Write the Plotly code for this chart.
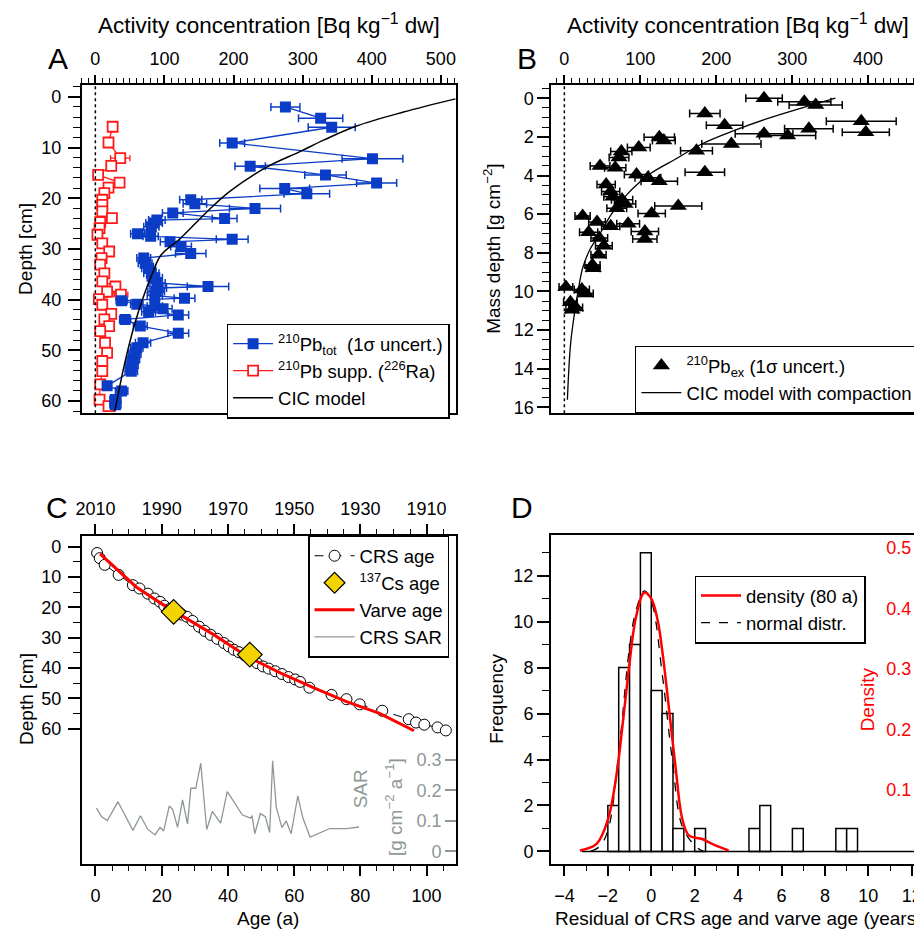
import plotly.graph_objects as go

# The page body has an 8px margin, so the figure is 8px smaller and all
# reference pixel positions are shifted by 8px.
OFF = 8
W, H = 922 - OFF, 936 - OFF
FONT = "Arial, 'Liberation Sans', Helvetica, sans-serif"
BLUE = "#0b3cc6"
RED = "#ff1a1a"
GRAY = "#8e9797"
YELLOW = "#f3d400"

# ---------------- Panel A data ----------------
pb_tot_depth = [2.0, 4.2, 6.0, 9.1, 12.2, 13.7, 15.4, 17.0, 18.1, 19.1, 20.3, 21.1, 22.0, 22.9,
                24.0, 24.3, 24.9, 25.6, 27.0, 27.5, 28.1, 28.6, 29.5, 30.9, 31.8, 32.8, 33.8,
                34.8, 35.7, 36.7, 37.4, 37.7, 38.4, 39.2, 39.7, 40.2, 40.9, 41.3, 41.8, 42.4,
                43.0, 43.9, 45.2, 46.6, 48.5, 49.5, 50.7, 51.8, 52.9, 54.1, 57.0, 58.0, 59.7, 60.7]
pb_tot_val = [275, 326, 342, 198, 401, 224, 333, 407, 274, 306, 138, 144, 231, 112,
              187, 89, 85, 81, 61, 80, 198, 108, 124, 138, 70, 72, 77,
              81, 86, 89, 163, 91, 88, 86, 129, 38, 60, 86, 98, 77,
              120, 43, 65, 120, 69, 60, 57, 55, 53, 52, 17, 38, 29, 29]
pb_tot_err = [21, 32, 34, 18, 44, 22, 30, 29, 36, 33, 16, 17, 37, 15,
              18, 12, 12, 11, 10, 11, 23, 14, 15, 22, 10, 10, 10,
              11, 11, 12, 30, 12, 12, 11, 15, 8, 9, 11, 13, 10,
              15, 8, 10, 15, 11, 9, 9, 9, 9, 9, 6, 9, 8, 8]

pb_supp_depth = [5.9, 9.0, 12.1, 13.6, 15.4, 16.9, 17.9, 19.0, 20.3, 21.3, 22.6, 23.9, 24.7,
                 25.9, 27.2, 28.9, 30.5, 31.8, 33.1, 34.8, 36.4, 37.4, 38.4, 39.0, 39.9, 41.0,
                 42.8, 43.9, 45.2, 46.2, 48.5, 50.5, 52.1, 54.1, 56.7, 59.7, 61.0]
pb_supp_val = [25, 19, 36, 23, 4, 35, 19, 13, 10, 10, 10, 24, 7,
               6, 3, 10, 20, 9, 7, 13, 10, 29, 17, 37, 5, 10,
               23, 13, 20, 7, 14, 17, 10, 10, 7, 6, 19]
pb_supp_err = [4, 4, 14, 5, 3, 6, 4, 4, 3, 3, 3, 5, 3,
               3, 3, 3, 5, 3, 3, 4, 3, 6, 4, 10, 3, 3,
               5, 4, 5, 3, 4, 4, 3, 3, 3, 3, 4]

cic_depth = [0.4, 3.0, 5.8, 8.5, 10.8, 14.0, 18.6, 22.6, 27.8, 31.2, 35.0, 40.0, 45.0, 52.8, 62.1]
cic_val = [521, 446, 377, 331, 296, 246, 195, 162, 124, 95, 82, 68, 56.5, 42, 28]

# ---------------- Panel B data ----------------
pbex_md = [0.0, 0.18, 0.35, 0.79, 1.19, 1.4, 1.58, 1.76, 1.84, 1.93, 2.02, 2.19, 2.37, 2.55,
           2.72, 2.76, 3.07, 3.51, 3.6, 3.83, 3.95, 4.12, 4.3, 4.47, 4.83, 5.1, 5.26, 5.47,
           5.58, 5.7, 5.97, 6.1, 6.4, 6.5, 6.63, 6.9, 6.93, 7.23, 7.28, 7.63, 8.1, 8.63,
           8.8, 9.77, 9.9, 10.1, 10.56, 10.83, 10.94]
pbex_val = [263, 316, 331, 185, 391, 211, 322, 397, 263, 294, 125, 131, 220, 98,
            174, 75, 72, 47, 67, 185, 95, 110, 125, 55, 61, 64, 76, 80,
            150, 69, 115, 24, 43, 84, 61, 106, 32, 46, 106, 52, 45, 37,
            38, 2, 23, 28, 8, 15, 10]
pbex_err = [24, 35, 35, 20, 46, 24, 32, 31, 38, 37, 20, 15, 39, 15,
            21, 14, 13, 13, 14, 26, 16, 17, 24, 12, 12, 12, 14, 14,
            31, 13, 18, 10, 11, 15, 12, 18, 12, 11, 16, 11, 10, 10,
            9, 9, 10, 10, 9, 9, 8]

cicc_md = [0.0, 0.53, 1.05, 1.67, 2.37, 3.16, 3.86, 4.39, 5.0, 6.0, 7.0, 7.8, 8.8, 10.0, 10.7, 12.67, 15.6]
cicc_val = [357, 311, 268, 224, 181, 146, 115, 98, 82, 62, 47, 34, 24, 18, 15, 8.3, 4]

# ---------------- Panel C data ----------------
crs_age = [0.5, 1.3, 2.8, 7.0, 11.3, 13.3, 15.8, 17.8, 19.5, 20.8, 22.3, 24.5, 26.0, 27.6,
           29.3, 31.3, 33.0, 34.8, 36.8, 38.8, 40.3, 41.8, 43.3, 45.0, 46.8, 48.8, 50.6,
           52.3, 54.3, 56.3, 58.3, 60.3, 61.8, 64.6, 71.3, 75.8, 79.8, 86.6, 94.6, 96.8,
           99.3, 103.3, 105.8]
crs_depth = [2.1, 3.8, 6.0, 9.3, 12.7, 13.8, 15.5, 17.1, 18.2, 19.5, 20.6, 21.6, 22.4, 23.1,
             24.5, 26.4, 27.8, 29.1, 30.4, 31.8, 32.9, 34.0, 34.8, 35.8, 37.0, 38.4, 39.5,
             40.2, 41.1, 42.0, 43.0, 43.8, 44.6, 46.5, 48.9, 50.3, 52.0, 54.1, 56.9, 58.0,
             58.7, 59.6, 60.6]
cs_age = [23.6, 46.6]
cs_depth = [21.5, 35.6]
varve_age = [1.4, 7.8, 12.3, 19.8, 25.8, 35.8, 45.8, 55.8, 65.8, 75.8, 85.8, 94.8, 96.2]
varve_depth = [2.4, 9.0, 13.3, 18.7, 22.6, 29.1, 36.2, 41.6, 46.5, 51.1, 55.0, 60.0, 60.7]
sar_age = [0.3, 1.8, 3.6, 6.8, 11.3, 13.6, 15.8, 18.0, 19.5, 20.6, 22.3, 23.3, 24.8, 26.3,
           27.8, 28.8, 30.3, 31.8, 33.6, 35.3, 37.8, 39.8, 41.8, 44.3, 46.8, 47.3, 48.1,
           49.8, 51.3, 52.6, 53.5, 54.6, 56.3, 57.6, 59.1, 61.1, 62.6, 64.8, 70.8, 75.8, 79.6]
sar_val = [0.142, 0.114, 0.101, 0.163, 0.069, 0.117, 0.072, 0.054, 0.079, 0.067, 0.149, 0.138,
           0.079, 0.169, 0.090, 0.207, 0.207, 0.289, 0.072, 0.131, 0.093, 0.196, 0.163, 0.120,
           0.109, 0.117, 0.058, 0.124, 0.114, 0.062, 0.297, 0.145, 0.078, 0.100, 0.058, 0.182,
           0.111, 0.047, 0.075, 0.075, 0.080]
year_ticks = [2010, 1990, 1970, 1950, 1930, 1910]

# ---------------- Panel D data ----------------
bin_left = [-2.0, -1.5, -1.0, -0.5, 0.0, 0.5, 1.0, 2.0, 4.5, 5.0, 6.5, 8.5, 9.0]
bin_count = [2, 8, 9, 13, 7, 6, 1, 1, 1, 2, 1, 1, 1]
bin_width = 0.5
hist_span = [-3.2, 12.1]
dens_x = [-3.29, -2.52, -1.99, -1.61, -1.31, -1.0, -0.7, -0.32, 0.0, 0.29, 0.52, 0.82,
          1.13, 1.43, 1.73, 2.34, 2.8, 3.56]
dens_y = [0.0, 0.011, 0.052, 0.123, 0.211, 0.31, 0.386, 0.426, 0.416, 0.381, 0.326, 0.233,
          0.134, 0.052, 0.025, 0.019, 0.011, 0.0]
norm_x = [-2.8, -2.37, -1.99, -1.5, -1.0, -0.7, -0.32, 0.0, 0.52, 0.97, 1.43, 2.04, 2.4]
norm_y = [0.0, 0.22, 0.94, 4.26, 8.9, 10.5, 11.34, 10.9, 7.6, 3.97, 1.08, 0.22, 0.0]


def px(x):
    return (x - OFF) / W


def py(y):
    return 1 - (y - OFF) / H


fig = go.Figure()

# ---- Panel A traces
fig.add_trace(go.Scatter(
    x=pb_supp_val, y=pb_supp_depth, mode="lines+markers", xaxis="x", yaxis="y",
    name="<sup>210</sup>Pb supp. (<sup>226</sup>Ra)", legend="legend", legendrank=2,
    line=dict(color=RED, width=1.3),
    marker=dict(symbol="square", size=10, color="white", line=dict(color=RED, width=1.8)),
    error_x=dict(type="data", array=pb_supp_err, color=RED, thickness=1.3, width=3)))
fig.add_trace(go.Scatter(
    x=pb_tot_val, y=pb_tot_depth, mode="lines+markers", xaxis="x", yaxis="y",
    name="<sup>210</sup>Pb<sub>tot</sub>  (1σ uncert.)", legend="legend", legendrank=1,
    line=dict(color=BLUE, width=1.3),
    marker=dict(symbol="square", size=11, color=BLUE),
    error_x=dict(type="data", array=pb_tot_err, color=BLUE, thickness=1.5, width=4)))
fig.add_trace(go.Scatter(
    x=cic_val, y=cic_depth, mode="lines", xaxis="x", yaxis="y", name="CIC model",
    legend="legend", legendrank=3, line=dict(color="black", width=1.5, shape="spline")))

# ---- Panel B traces
fig.add_trace(go.Scatter(
    x=pbex_val, y=pbex_md, mode="markers", xaxis="x2", yaxis="y2",
    name="<sup>210</sup>Pb<sub>ex</sub> (1σ uncert.)", legend="legend2",
    marker=dict(symbol="triangle-up", size=15, color="black"),
    error_x=dict(type="data", array=pbex_err, color="black", thickness=1.5, width=4)))
fig.add_trace(go.Scatter(
    x=cicc_val, y=cicc_md, mode="lines", xaxis="x2", yaxis="y2",
    name="CIC model with compaction", legend="legend2",
    line=dict(color="black", width=1.3, shape="spline")))

# ---- Panel C traces
fig.add_trace(go.Scatter(
    x=sar_age, y=sar_val, mode="lines", xaxis="x3", yaxis="y4", name="CRS SAR",
    legend="legend3", legendrank=4, line=dict(color=GRAY, width=1.3)))
fig.add_trace(go.Scatter(
    x=crs_age, y=crs_depth, mode="lines+markers", xaxis="x3", yaxis="y3", name="CRS age",
    legend="legend3", legendrank=1, line=dict(color="black", width=1, dash="dash"),
    marker=dict(symbol="circle", size=11, color="white", line=dict(color="black", width=1))))
fig.add_trace(go.Scatter(
    x=varve_age, y=varve_depth, mode="lines", xaxis="x3", yaxis="y3", name="Varve age",
    legend="legend3", legendrank=3, line=dict(color="#ff0000", width=3)))
fig.add_trace(go.Scatter(
    x=cs_age, y=cs_depth, mode="markers", xaxis="x3", yaxis="y3",
    name="<sup>137</sup>Cs age", legend="legend3", legendrank=2,
    marker=dict(symbol="diamond", size=19, color=YELLOW, line=dict(color="black", width=1.2))))
fig.add_trace(go.Scatter(x=[], y=[], xaxis="x4", yaxis="y3", showlegend=False, hoverinfo="skip"))

# ---- Panel D traces
fig.add_trace(go.Bar(
    x=[b + bin_width / 2 for b in bin_left], y=bin_count, width=bin_width,
    xaxis="x5", yaxis="y5", showlegend=False,
    marker=dict(color="white", line=dict(color="black", width=1.5))))
fig.add_trace(go.Scatter(
    x=dens_x, y=dens_y, mode="lines", xaxis="x5", yaxis="y6", name="density (80 a)",
    legend="legend4", legendrank=1, line=dict(color="#ff0000", width=2.5, shape="spline")))
fig.add_trace(go.Scatter(
    x=hist_span, y=[0, 0], mode="lines", xaxis="x5", yaxis="y5", showlegend=False,
    line=dict(color="black", width=1.5)))
fig.add_trace(go.Scatter(
    x=norm_x, y=norm_y, mode="lines", xaxis="x5", yaxis="y5", name="normal distr.",
    legend="legend4", legendrank=2, line=dict(color="black", width=1.3, dash="dash", shape="spline")))

# ---- zero reference lines (dotted)
for xr, yr in (("x", "y"), ("x2", "y2")):
    fig.add_shape(type="line", xref=xr, x0=0, x1=0, yref=yr + " domain", y0=0, y1=1,
                  line=dict(color="black", width=1.5, dash="dot"))

tickfont = dict(size=18, color="black", family=FONT)


def ax(**kw):
    d = dict(showline=True, linecolor="black", linewidth=1.5, ticks="outside",
             tickcolor="black", tickwidth=1.5, showgrid=False, zeroline=False,
             tickfont=tickfont, autorange=False, fixedrange=True)
    d.update(kw)
    return d


minor_k = dict(ticks="outside", tickcolor="black", tickwidth=1.2, showgrid=False)

dom_top = [py(415), py(85)]
dom_bot = [py(867.3), py(538)]

fig.update_layout(
    width=W, height=H, margin=dict(l=0, r=0, t=0, b=0),
    paper_bgcolor="white", plot_bgcolor="rgba(0,0,0,0)",
    font=dict(family=FONT, size=18, color="black"),
    xaxis=ax(domain=[px(76), px(453)], range=[-20, 522], side="top", anchor="y", mirror=True,
             tick0=0, dtick=100, ticklen=8, ticklabelstandoff=3,
             minor=dict(dtick=10, ticklen=5, **minor_k)),
    yaxis=ax(domain=dom_top, range=[62.4, -2.4], anchor="x", mirror=True,
             tick0=0, dtick=10, ticklen=12, ticklabelstandoff=3,
             minor=dict(dtick=2, ticklen=7, **minor_k)),
    xaxis2=ax(domain=[px(548.7), 1.0], range=[-17.4, 471], side="top", anchor="y2", mirror=True,
              tick0=0, dtick=100, ticklen=8, ticklabelstandoff=3,
              minor=dict(dtick=10, ticklen=5, **minor_k)),
    yaxis2=ax(domain=dom_top, range=[16.3, -0.7], anchor="x2", mirror=False,
              tick0=0, dtick=2, ticklen=12, minor=dict(dtick=0.5, ticklen=7, **minor_k)),
    xaxis3=ax(domain=[px(76), px(453)], range=[-4.2, 108.9], anchor="y3", mirror=True,
              tick0=0, dtick=20, ticklen=11, ticklabelstandoff=4,
              minor=dict(dtick=5, ticklen=6, **minor_k)),
    xaxis4=ax(overlaying="x3", anchor="y3", side="top", range=[2014.2, 1901.1], showline=False,
              tickmode="array", tickvals=year_ticks, ticklen=11, ticklabelstandoff=2,
              minor=dict(dtick=5, tick0=1910, ticklen=6, **minor_k)),
    yaxis3=ax(domain=dom_bot, range=[104.5, -3.6], anchor="x3", mirror=True,
              tickmode="array", tickvals=[0, 10, 20, 30, 40, 50, 60], ticklen=12, ticklabelstandoff=3,
              minor=dict(tickmode="array", tickvals=[5, 15, 25, 35, 45, 55], ticklen=7, **minor_k)),
    yaxis4=ax(overlaying="y3", anchor="free", position=px(453), side="left",
              range=[-0.04, 1.035], showline=False,
              tickmode="array", tickvals=[0, 0.1, 0.2, 0.3], ticktext=["0", "0.1", "0.2", "0.3"],
              ticks="outside", ticklen=11, tickcolor=GRAY,
              tickfont=dict(size=18, color=GRAY, family=FONT)),
    xaxis5=ax(domain=[px(548.3), 1.0], range=[-4.63, 12.47], anchor="y5", mirror=True,
              tick0=0, dtick=2, ticklen=11, ticklabelstandoff=4,
              minor=dict(dtick=1, ticklen=6, **minor_k)),
    yaxis5=ax(domain=[py(867.3), py(537.3)], range=[-0.53, 13.77], anchor="x5", mirror=False,
              tick0=0, dtick=2, ticklen=12, minor=dict(dtick=1, ticklen=7, **minor_k)),
    yaxis6=ax(overlaying="y5", anchor="free", position=1.0, side="left",
              range=[-0.0216, 0.521], showline=False,
              tickmode="array", tickvals=[0.1, 0.2, 0.3, 0.4, 0.5], ticks="outside",
              ticklen=7, tickcolor="#ff0000",
              tickfont=dict(size=18, color="#ff0000", family=FONT),
              minor=dict(tickmode="array", tickvals=[0.05, 0.15, 0.25, 0.35, 0.45], ticklen=4,
                         ticks="outside", tickcolor="#ff0000", tickwidth=1.5)),
    barmode="overlay",
)

leg = dict(bordercolor="black", borderwidth=1.5, bgcolor="white",
           font=dict(size=18.5, family=FONT, color="black"), itemwidth=40,
           tracegroupgap=0, traceorder="normal", xanchor="left", yanchor="top")
fig.update_layout(
    legend=dict(leg, x=px(222), y=py(325)),
    legend2=dict(leg, x=px(633), y=py(347)),
    legend3=dict(leg, x=px(304), y=py(538)),
    legend4=dict(leg, x=px(693), y=py(578)),
)


def note(text, x, y, size=19, color="black", angle=0):
    fig.add_annotation(text=text, x=px(x), y=py(y), xref="paper", yref="paper",
                       showarrow=False, xanchor="center", yanchor="middle", textangle=angle,
                       font=dict(size=size, color=color, family=FONT))


note("A", 52, 59, size=30)
note("B", 524, 59, size=30)
note("C", 51, 510, size=30)
note("D", 519, 510, size=30)
note("Activity concentration [Bq kg<sup>−1</sup> dw]", 265, 24, size=22.5)
note("Activity concentration [Bq kg<sup>−1</sup> dw]", 737, 24, size=22.5)
note("Depth [cm]", 20, 250, angle=-90)
note("Mass depth [g cm<sup>−2</sup>]", 489, 250, angle=-90)
note("Depth [cm]", 20, 702, angle=-90)
note("Age (a)", 264, 922)
note("Residual of CRS age and varve age (years)", 738, 922)
note("Frequency", 493, 702, angle=-90)
note("Density", 867, 702, color="#ff0000", angle=-90)
note("SAR", 357, 792, color=GRAY, angle=-90)
note("[g cm<sup>−2</sup> a<sup>−1</sup>]", 390, 810, color=GRAY, angle=-90)

fig.write_html("out.html")
